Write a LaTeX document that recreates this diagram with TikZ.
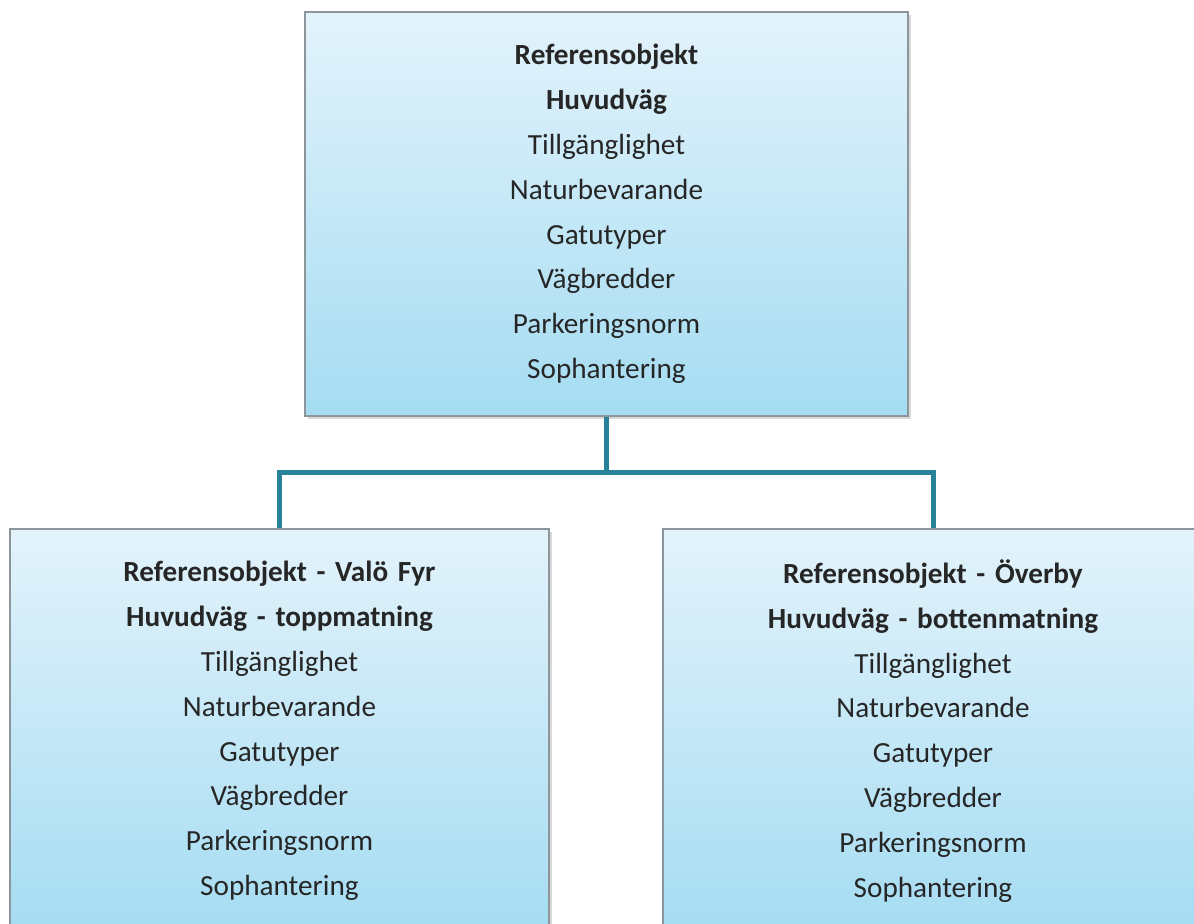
\documentclass[tikz,border=0pt]{standalone}
\usepackage{fontspec}
\setmainfont{Carlito}
\usetikzlibrary{shadows,positioning}
\definecolor{boxtop}{RGB}{227,243,251}
\definecolor{boxbot}{RGB}{165,220,242}
\definecolor{boxline}{RGB}{140,150,154}
\definecolor{connline}{RGB}{40,131,154}
\definecolor{boxtext}{RGB}{38,38,38}
\newcommand*{\refitems}{Tillgänglighet\\Naturbevarande\\Gatutyper\\Vägbredder\\Parkeringsnorm\\Sophantering}

\begin{document}
\begin{tikzpicture}[x=0.5pt,y=-0.5pt,
    box/.style={rectangle,draw=boxline,line width=1pt,top color=boxtop,bottom color=boxbot,
      drop shadow={shadow xshift=1.5pt,shadow yshift=-1.5pt,opacity=0.3,fill=gray},
      align=center,minimum height=202pt,inner sep=0pt,
      font=\fontsize{14.6}{22.4}\selectfont,text=boxtext},
    conn/.style={draw=connline,line width=2.5pt}]
    \useasboundingbox (0,0) rectangle (1194,924);
    \node[box,text width=301.5pt] (top) at (606.5,214)
        {\textbf{Referensobjekt}\\\textbf{Huvudväg}\\\refitems};
    \node[box,text width=269.5pt] (valo) at (279.5,731)
        {\textbf{Referensobjekt - Valö Fyr}\\\textbf{Huvudväg - toppmatning}\\\refitems};
    \node[box,text width=270pt] (overby) at (933,731)
        {\textbf{Referensobjekt - Överby}\\\textbf{Huvudväg - bottenmatning}\\\refitems};
    \coordinate (split) at ([yshift=-28pt]top.south);
    \draw[conn] (top.south) -- (split) -| (valo.north);
    \draw[conn] (split) -| (overby.north);
\end{tikzpicture}
\end{document}
